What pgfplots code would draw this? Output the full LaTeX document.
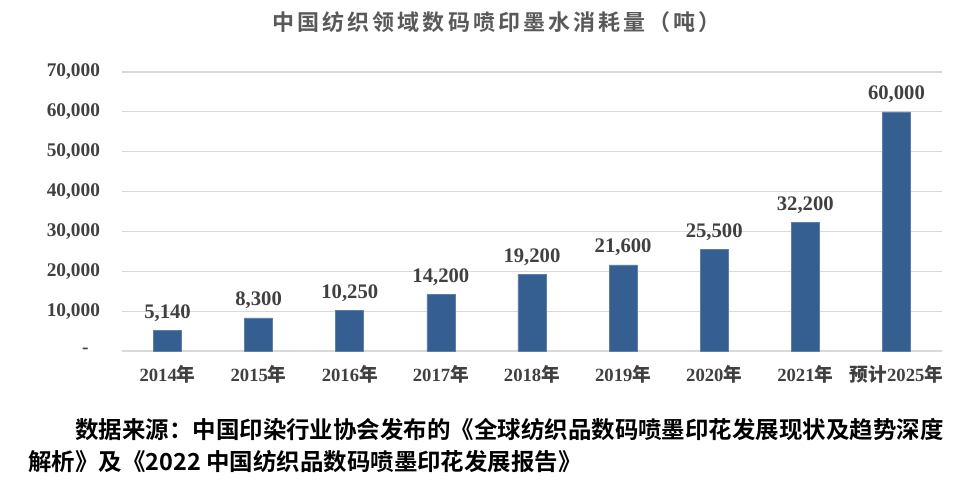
\documentclass[border=0pt]{standalone}
\usepackage{pgfplots}
\pgfplotsset{compat=1.18}
\usepackage{fontspec}
\setmainfont{Liberation Serif}
\newfontfamily\cjk{Noto Sans CJK SC}
\newfontfamily\cjkb{Noto Sans CJK SC Bold}
\newfontfamily\cjkt[LetterSpace=14]{Noto Sans CJK SC Bold}
\definecolor{barblue}{RGB}{54,95,145}
\definecolor{txt}{RGB}{64,64,64}
\definecolor{ttl}{RGB}{89,89,89}
\definecolor{gridc}{RGB}{217,217,217}
\begin{document}
\begin{tikzpicture}
\useasboundingbox (-91.5pt,-99pt) rectangle (636.75pt,263.25pt);
\begin{axis}[
  at={(0pt,0pt)}, anchor=south west,
  scale only axis, width=615pt, height=209.25pt,
  xmin=-0.5, xmax=8.5, ymin=0, ymax=70000,
  ybar, bar width=21pt,
  axis line style={draw=none},
  major tick length=0pt,
  scaled y ticks=false,
  ymajorgrids, grid style={gridc, line width=0.8pt},
  xtick={0,...,8},
  xticklabels={{2014{\cjkb 年}},{2015{\cjkb 年}},{2016{\cjkb 年}},{2017{\cjkb 年}},{2018{\cjkb 年}},{2019{\cjkb 年}},{2020{\cjkb 年}},{2021{\cjkb 年}},{{\cjkb 预计}2025{\cjkb 年}}},
  ytick={0,10000,...,70000},
  yticklabels={{-\rule{8.5pt}{0pt}},{10,000},{20,000},{30,000},{40,000},{50,000},{60,000},{70,000}},
  tick label style={font=\bfseries\fontsize{14}{16}\selectfont, text=txt},
  yticklabel style={font=\bfseries\fontsize{14.5}{16}\selectfont, xshift=-13pt},
  xticklabel style={yshift=-7pt},
  /pgf/number format/assume math mode=true,
  /pgf/number format/.cd, fixed, 1000 sep={,}, /pgfplots/.cd,
  point meta=y,
  nodes near coords,
  every node near coord/.append style={font=\bfseries\fontsize{15.5}{17}\selectfont, text=txt, anchor=base, yshift=9pt},
]
\addplot[fill=barblue, draw=barblue!80!white, line width=0.5pt] coordinates {
 (0,5140) (1,8300) (2,10250) (3,14200) (4,19200) (5,21600) (6,25500) (7,32200) (8,60000)};
\end{axis}
\node[text=ttl, font=\cjkt\fontsize{16.5}{19}\selectfont] at (281pt,247pt) {中国纺织领域数码喷印墨水消耗量（吨）};
\node[anchor=west, inner sep=0pt, font=\cjkb\fontsize{17.6}{20}\selectfont] at (-35.25pt,-59pt) {数据来源：中国印染行业协会发布的《全球纺织品数码喷墨印花发展现状及趋势深度};
\node[anchor=west, inner sep=0pt, font=\cjkb\fontsize{17.6}{20}\selectfont] at (-70.5pt,-83pt) {解析》及《2022 中国纺织品数码喷墨印花发展报告》};
\end{tikzpicture}
\end{document}
